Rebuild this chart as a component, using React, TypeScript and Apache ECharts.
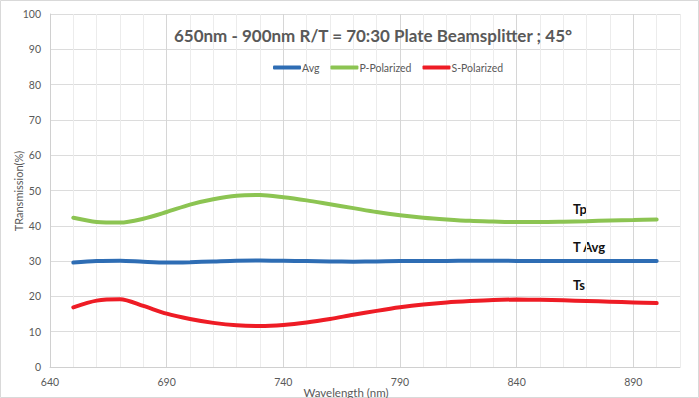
import React, { useEffect, useRef } from "react";
import * as echarts from "echarts";

const wavelengths = [650, 660, 670, 680, 690, 700, 710, 720, 730, 740, 750, 760, 770, 780, 790, 800, 810, 820, 830, 840, 850, 860, 870, 880, 890, 900];
const avgValues = [29.6, 30.0, 30.1, 29.8, 29.6, 29.7, 29.9, 30.1, 30.15, 30.1, 30.0, 29.9, 29.85, 29.9, 30.0, 30.0, 30.05, 30.1, 30.1, 30.05, 30.0, 30.0, 30.0, 30.0, 30.0, 30.0];
const pValues = [42.3, 41.1, 40.9, 42.0, 43.9, 46.0, 47.5, 48.5, 48.7, 48.1, 47.2, 46.1, 45.0, 43.9, 43.0, 42.3, 41.8, 41.4, 41.2, 41.05, 41.05, 41.15, 41.3, 41.5, 41.65, 41.8];
const sValues = [16.9, 18.8, 19.2, 17.3, 15.1, 13.6, 12.5, 11.8, 11.6, 11.9, 12.6, 13.6, 14.8, 15.9, 16.9, 17.7, 18.3, 18.7, 19.0, 19.1, 19.05, 18.9, 18.7, 18.5, 18.3, 18.1];
const seriesNames = ["Avg", "P-Polarized", "S-Polarized"];
const seriesColors = ["#2E6DB4", "#8CC452", "#EE1C25"];
const annotations = ["Tp", "T Avg", "Ts"];
const titleText = "650nm - 900nm R/T = 70:30 Plate Beamsplitter ; 45°";

const FONT = "Lato, 'Noto Sans', sans-serif";

export default function App() {
  const ref = useRef<HTMLDivElement>(null);
  useEffect(() => {
    if (!ref.current) return;
    const chart = echarts.init(ref.current, null, { renderer: "svg" });
    const allValues = [avgValues, pValues, sValues];
    chart.setOption({
      animation: false,
      backgroundColor: "#ffffff",
      textStyle: { fontFamily: FONT },
      title: {
        text: titleText,
        left: 368,
        top: 22,
        textAlign: "center",
        textStyle: { fontFamily: FONT, fontSize: 17, fontWeight: "bold", color: "#595959" },
      },
      legend: {
        data: seriesNames,
        left: 268,
        top: 57,
        itemWidth: 28,
        itemHeight: 4,
        itemGap: 11,
        icon: "roundRect",
        textStyle: { fontFamily: FONT, fontSize: 10.5, color: "#595959", padding: [0, 0, 0, -4] },
      },
      grid: { left: 50, right: 19, top: 14, bottom: 31 },
      xAxis: {
        type: "value",
        min: 640,
        max: 910,
        interval: 10,
        axisLine: { show: true, lineStyle: { color: "#d0d0d0", width: 1 } },
        axisTick: { show: false },
        axisLabel: {
          color: "#595959",
          fontSize: 10.5,
          fontFamily: FONT,
          margin: 9,
          formatter: (v: number) => ((v - 640) % 50 === 0 && v < 910 ? String(v) : ""),
        },
        splitLine: {
          show: true,
          lineStyle: { color: ["#d6d6d6", "#ececec", "#ececec", "#ececec", "#ececec"], width: 1 },
        },
      },
      yAxis: {
        type: "value",
        min: 0,
        max: 100,
        interval: 10,
        axisLine: { show: true, lineStyle: { color: "#d0d0d0", width: 1 } },
        axisTick: { show: false },
        axisLabel: { color: "#595959", fontSize: 10.5, fontFamily: FONT, margin: 9 },
        splitLine: { show: true, lineStyle: { color: "#dcdcdc", width: 1 } },
      },
      graphic: [
        {
          type: "rect",
          shape: { x: 0.5, y: 0.5, width: 698, height: 397 },
          style: { fill: "none", stroke: "#d9d9d9", lineWidth: 1 },
          silent: true,
        },
        {
          type: "text",
          x: 18,
          y: 191,
          rotation: Math.PI / 2,
          style: {
            text: "TRansmission(%)",
            font: `11px ${FONT}`,
            fill: "#595959",
            textAlign: "center",
            textVerticalAlign: "middle",
          },
        },
        {
          type: "text",
          x: 346,
          y: 392,
          style: {
            text: "Wavelength (nm)",
            font: `11.5px ${FONT}`,
            fill: "#595959",
            textAlign: "center",
            textVerticalAlign: "middle",
          },
        },
        {
          type: "text",
          x: 573,
          y: 209,
          style: { text: annotations[0], font: `bold 13px ${FONT}`, fill: "#111111", textVerticalAlign: "middle" },
        },
        {
          type: "text",
          x: 573,
          y: 247,
          style: { text: annotations[1], font: `bold 13px ${FONT}`, fill: "#111111", textVerticalAlign: "middle" },
        },
        {
          type: "text",
          x: 573,
          y: 285,
          style: { text: annotations[2], font: `bold 13px ${FONT}`, fill: "#111111", textVerticalAlign: "middle" },
        },
      ],
      series: seriesNames.map((name, k) => ({
        name,
        type: "line",
        smooth: 0.3,
        showSymbol: false,
        symbol: "none",
        lineStyle: { color: seriesColors[k], width: 4, cap: "round" },
        itemStyle: { color: seriesColors[k] },
        data: wavelengths.map((w, i) => [w, allValues[k][i]]),
      })),
    });
    return () => chart.dispose();
  }, []);
  return (
    <div
      ref={ref}
      style={{ position: "fixed", left: 0, top: 0, width: 699, height: 398 }}
    />
  );
}
